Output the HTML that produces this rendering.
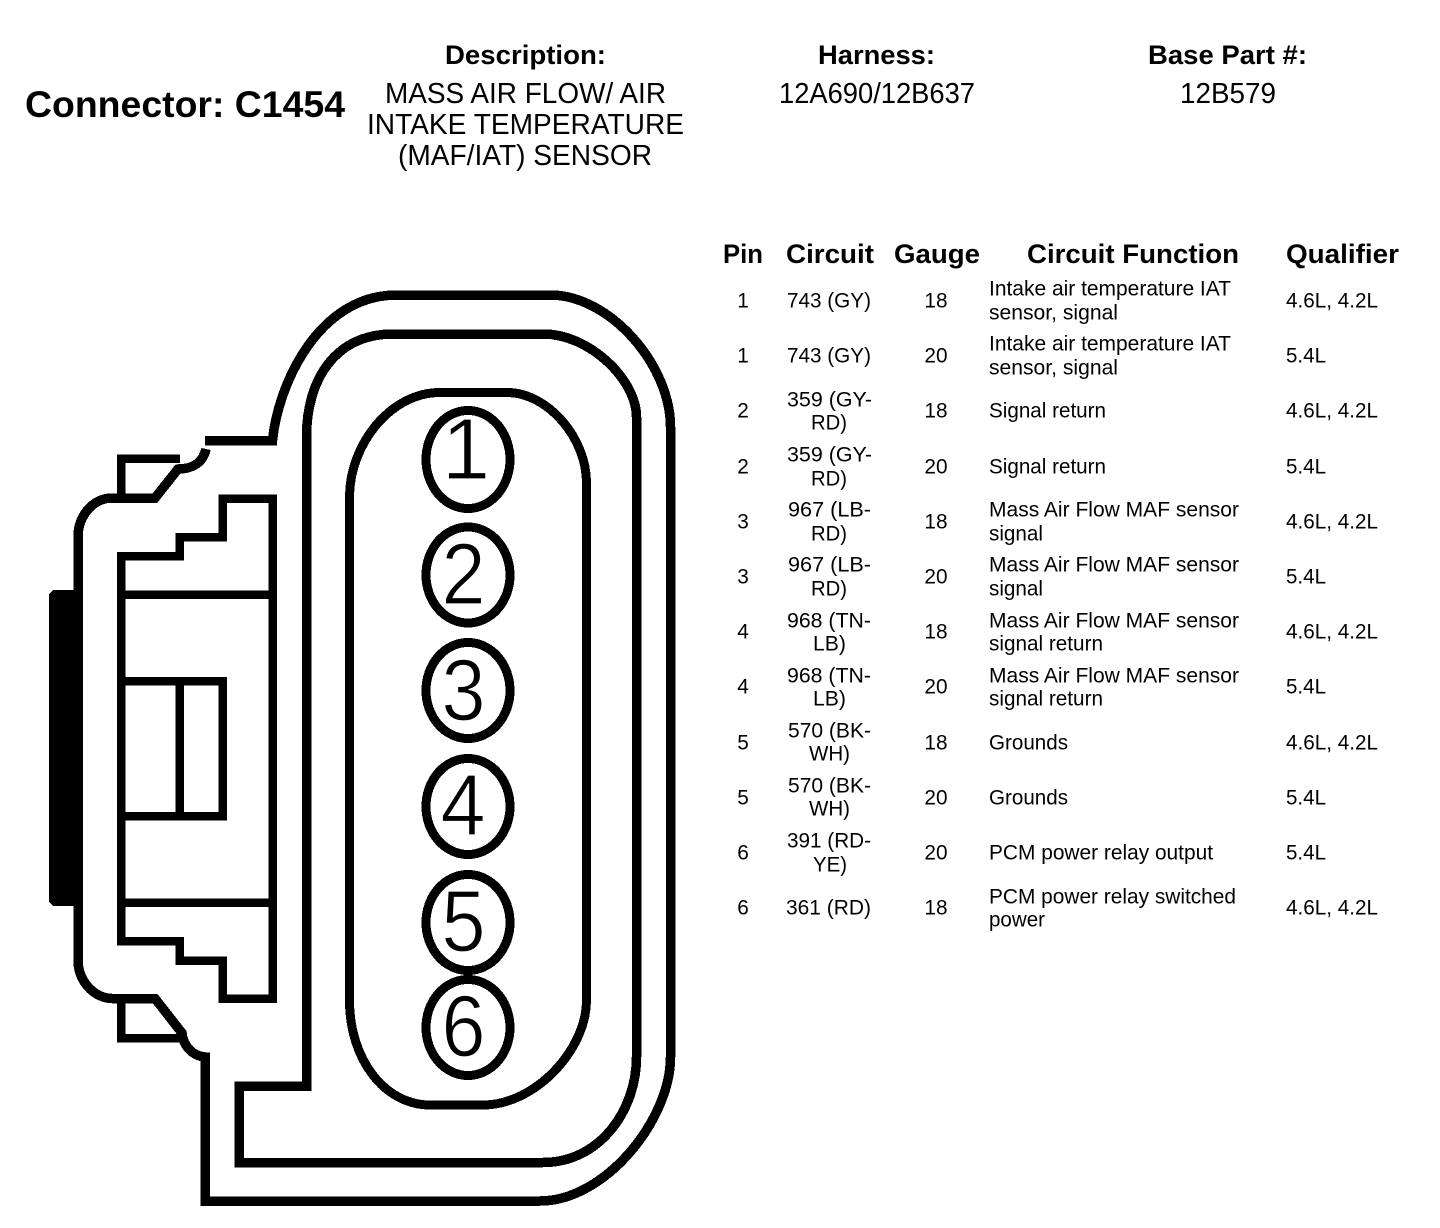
<!DOCTYPE html>
<html lang="en">
<head>
<meta charset="utf-8">
<title>Connector C1454</title>
<style>
html,body{margin:0;padding:0;background:#fff}
svg{display:block}
text{font-family:"Liberation Sans",Arial,sans-serif;fill:#000}
.h{font-weight:bold;font-size:26.5px}
.t{font-size:20.8px}
.d{font-size:29px}
.n{font-size:87px;stroke:#fff;stroke-width:1.2px}
.m{text-anchor:middle}
.l{fill:none;stroke:#000;stroke-width:8.5;shape-rendering:crispEdges;stroke-linejoin:miter}
.c{fill:none;stroke:#000;stroke-width:9;shape-rendering:crispEdges}
</style>
</head>
<body>
<svg xmlns="http://www.w3.org/2000/svg" width="1440" height="1228" viewBox="0 0 1440 1228">
<rect width="1440" height="1228" fill="#fff"/>

<!-- Black block -->
<path d="M53 590H82V906H53L49 902V594Z" fill="#000" shape-rendering="crispEdges"/>

<!-- Outer shell -->
<path class="l" style="stroke-width:9.5" d="M205 440.5H272.5C278 385 318 295 397 295H550C610 295 670.5 365 670.5 427V1057C670.5 1120 605 1201 540 1201H205V1057C192 1056 183 1045 182 1033L155 998.5H112C93 998 78 980 78 960V537C78 516 93 498 112 498H155L178 469C192 469 203 463 206 449"/>
<!-- Retention tabs -->
<path class="l" d="M180 458.5H121V498"/>
<path class="l" d="M121 998.5V1038H182"/>

<!-- Middle frame -->
<path class="l" style="stroke-width:9.5" d="M239 1086H306.5V437C306.5 380 335 334 393 334H543C590 334 636.5 380 636.5 417V1057C636.5 1110 600 1162.5 543 1162.5H239Z"/>

<!-- Inner capsule -->
<path class="l" style="stroke-width:9" d="M349.5 497C349.5 445 390 392.5 440 392.5H507C548 392.5 586.5 438 586.5 483V1000C586.5 1050 535 1105 483 1105H430C385 1105 349.5 1060 349.5 1000Z"/>

<!-- Stepped interior -->
<path class="l" d="M121 556H179.5V537H222.5V498.5H272.5V998.5H222.5V960.5H179.5V941H121Z"/>
<path class="l" d="M121 594.5H272.5"/>
<path class="l" d="M121 902.5H272.5"/>
<path class="l" d="M121 681H222.5V816H121"/>
<path class="l" d="M179.5 681V816"/>

<!-- Pin circles -->
<ellipse class="c" cx="468" cy="459.5" rx="42" ry="49"/>
<ellipse class="c" cx="468" cy="575" rx="42" ry="48"/>
<ellipse class="c" cx="468" cy="690.5" rx="42" ry="48"/>
<ellipse class="c" cx="468" cy="806.5" rx="42" ry="48"/>
<ellipse class="c" cx="468" cy="922.5" rx="42" ry="48"/>
<ellipse class="c" cx="468" cy="1027.5" rx="42" ry="48"/>
<text class="n m" x="466" y="479">1</text>
<text class="n m" x="463.5" y="604" textLength="44" lengthAdjust="spacingAndGlyphs">2</text>
<text class="n m" x="463.5" y="720" textLength="44" lengthAdjust="spacingAndGlyphs">3</text>
<text class="n m" x="463" y="835" textLength="45" lengthAdjust="spacingAndGlyphs">4</text>
<text class="n m" x="463.5" y="951" textLength="44" lengthAdjust="spacingAndGlyphs">5</text>
<text class="n m" x="463.5" y="1056" textLength="44" lengthAdjust="spacingAndGlyphs">6</text>

<!-- Header -->
<text x="25" y="117" font-weight="bold" font-size="37.4" textLength="320" lengthAdjust="spacingAndGlyphs">Connector: C1454</text>
<text class="h" x="445" y="64" textLength="161" lengthAdjust="spacingAndGlyphs">Description:</text>
<text class="h" x="818" y="64" textLength="117" lengthAdjust="spacingAndGlyphs">Harness:</text>
<text class="h" x="1148" y="64" textLength="159" lengthAdjust="spacingAndGlyphs">Base Part #:</text>
<text class="d" x="385" y="103" textLength="281" lengthAdjust="spacingAndGlyphs">MASS AIR FLOW/ AIR</text>
<text class="d" x="367" y="134" textLength="317" lengthAdjust="spacingAndGlyphs">INTAKE TEMPERATURE</text>
<text class="d" x="398" y="165" textLength="254" lengthAdjust="spacingAndGlyphs">(MAF/IAT) SENSOR</text>
<text class="d" x="779" y="103" textLength="196" lengthAdjust="spacingAndGlyphs">12A690/12B637</text>
<text class="d" x="1180" y="103" textLength="96" lengthAdjust="spacingAndGlyphs">12B579</text>

<!-- Table headings -->
<text class="h" x="723" y="263" textLength="40" lengthAdjust="spacingAndGlyphs">Pin</text>
<text class="h" x="786" y="263" textLength="88" lengthAdjust="spacingAndGlyphs">Circuit</text>
<text class="h" x="894" y="263" textLength="86" lengthAdjust="spacingAndGlyphs">Gauge</text>
<text class="h" x="1027" y="263" textLength="212" lengthAdjust="spacingAndGlyphs">Circuit Function</text>
<text class="h" x="1286" y="263" textLength="113" lengthAdjust="spacingAndGlyphs">Qualifier</text>

<g class="t" transform="translate(0,0.6)">
<text class="m" x="743" y="307">1</text>
<text x="787" y="307" textLength="84" lengthAdjust="spacingAndGlyphs">743 (GY)</text>
<text class="m" x="936" y="307">18</text>
<text x="989" y="295" textLength="242" lengthAdjust="spacingAndGlyphs">Intake air temperature IAT</text>
<text x="989" y="319" textLength="129" lengthAdjust="spacingAndGlyphs">sensor, signal</text>
<text x="1286" y="307" textLength="92" lengthAdjust="spacingAndGlyphs">4.6L, 4.2L</text>

<text class="m" x="743" y="362">1</text>
<text x="787" y="362" textLength="84" lengthAdjust="spacingAndGlyphs">743 (GY)</text>
<text class="m" x="936" y="362">20</text>
<text x="989" y="350" textLength="242" lengthAdjust="spacingAndGlyphs">Intake air temperature IAT</text>
<text x="989" y="374" textLength="129" lengthAdjust="spacingAndGlyphs">sensor, signal</text>
<text x="1286" y="362" textLength="40" lengthAdjust="spacingAndGlyphs">5.4L</text>

<text class="m" x="743" y="417">2</text>
<text x="787" y="406" textLength="85" lengthAdjust="spacingAndGlyphs">359 (GY-</text>
<text x="811" y="429" textLength="36" lengthAdjust="spacingAndGlyphs">RD)</text>
<text class="m" x="936" y="417">18</text>
<text x="989" y="417" textLength="117" lengthAdjust="spacingAndGlyphs">Signal return</text>
<text x="1286" y="417" textLength="92" lengthAdjust="spacingAndGlyphs">4.6L, 4.2L</text>

<text class="m" x="743" y="473">2</text>
<text x="787" y="461" textLength="85" lengthAdjust="spacingAndGlyphs">359 (GY-</text>
<text x="811" y="485" textLength="36" lengthAdjust="spacingAndGlyphs">RD)</text>
<text class="m" x="936" y="473">20</text>
<text x="989" y="473" textLength="117" lengthAdjust="spacingAndGlyphs">Signal return</text>
<text x="1286" y="473" textLength="40" lengthAdjust="spacingAndGlyphs">5.4L</text>

<text class="m" x="743" y="528">3</text>
<text x="788" y="516" textLength="83" lengthAdjust="spacingAndGlyphs">967 (LB-</text>
<text x="811" y="540" textLength="36" lengthAdjust="spacingAndGlyphs">RD)</text>
<text class="m" x="936" y="528">18</text>
<text x="989" y="516" textLength="250" lengthAdjust="spacingAndGlyphs">Mass Air Flow MAF sensor</text>
<text x="989" y="540" textLength="54" lengthAdjust="spacingAndGlyphs">signal</text>
<text x="1286" y="528" textLength="92" lengthAdjust="spacingAndGlyphs">4.6L, 4.2L</text>

<text class="m" x="743" y="583">3</text>
<text x="788" y="571" textLength="83" lengthAdjust="spacingAndGlyphs">967 (LB-</text>
<text x="811" y="595" textLength="36" lengthAdjust="spacingAndGlyphs">RD)</text>
<text class="m" x="936" y="583">20</text>
<text x="989" y="571" textLength="250" lengthAdjust="spacingAndGlyphs">Mass Air Flow MAF sensor</text>
<text x="989" y="595" textLength="54" lengthAdjust="spacingAndGlyphs">signal</text>
<text x="1286" y="583" textLength="40" lengthAdjust="spacingAndGlyphs">5.4L</text>

<text class="m" x="743" y="638">4</text>
<text x="787" y="627" textLength="84" lengthAdjust="spacingAndGlyphs">968 (TN-</text>
<text x="813" y="650" textLength="33" lengthAdjust="spacingAndGlyphs">LB)</text>
<text class="m" x="936" y="638">18</text>
<text x="989" y="627" textLength="250" lengthAdjust="spacingAndGlyphs">Mass Air Flow MAF sensor</text>
<text x="989" y="650" textLength="114" lengthAdjust="spacingAndGlyphs">signal return</text>
<text x="1286" y="638" textLength="92" lengthAdjust="spacingAndGlyphs">4.6L, 4.2L</text>

<text class="m" x="743" y="693">4</text>
<text x="787" y="682" textLength="84" lengthAdjust="spacingAndGlyphs">968 (TN-</text>
<text x="813" y="705" textLength="33" lengthAdjust="spacingAndGlyphs">LB)</text>
<text class="m" x="936" y="693">20</text>
<text x="989" y="682" textLength="250" lengthAdjust="spacingAndGlyphs">Mass Air Flow MAF sensor</text>
<text x="989" y="705" textLength="114" lengthAdjust="spacingAndGlyphs">signal return</text>
<text x="1286" y="693" textLength="40" lengthAdjust="spacingAndGlyphs">5.4L</text>

<text class="m" x="743" y="749">5</text>
<text x="788" y="737" textLength="83" lengthAdjust="spacingAndGlyphs">570 (BK-</text>
<text x="809" y="760" textLength="41" lengthAdjust="spacingAndGlyphs">WH)</text>
<text class="m" x="936" y="749">18</text>
<text x="989" y="749" textLength="79" lengthAdjust="spacingAndGlyphs">Grounds</text>
<text x="1286" y="749" textLength="92" lengthAdjust="spacingAndGlyphs">4.6L, 4.2L</text>

<text class="m" x="743" y="804">5</text>
<text x="788" y="792" textLength="83" lengthAdjust="spacingAndGlyphs">570 (BK-</text>
<text x="809" y="815" textLength="41" lengthAdjust="spacingAndGlyphs">WH)</text>
<text class="m" x="936" y="804">20</text>
<text x="989" y="804" textLength="79" lengthAdjust="spacingAndGlyphs">Grounds</text>
<text x="1286" y="804" textLength="40" lengthAdjust="spacingAndGlyphs">5.4L</text>

<text class="m" x="743" y="859">6</text>
<text x="787" y="847" textLength="84" lengthAdjust="spacingAndGlyphs">391 (RD-</text>
<text x="813" y="871" textLength="34" lengthAdjust="spacingAndGlyphs">YE)</text>
<text class="m" x="936" y="859">20</text>
<text x="989" y="859" textLength="224" lengthAdjust="spacingAndGlyphs">PCM power relay output</text>
<text x="1286" y="859" textLength="40" lengthAdjust="spacingAndGlyphs">5.4L</text>

<text class="m" x="743" y="914">6</text>
<text x="786" y="914" textLength="85" lengthAdjust="spacingAndGlyphs">361 (RD)</text>
<text class="m" x="936" y="914">18</text>
<text x="989" y="903" textLength="247" lengthAdjust="spacingAndGlyphs">PCM power relay switched</text>
<text x="989" y="926" textLength="56" lengthAdjust="spacingAndGlyphs">power</text>
<text x="1286" y="914" textLength="92" lengthAdjust="spacingAndGlyphs">4.6L, 4.2L</text>
</g>
</svg>
</body>
</html>
